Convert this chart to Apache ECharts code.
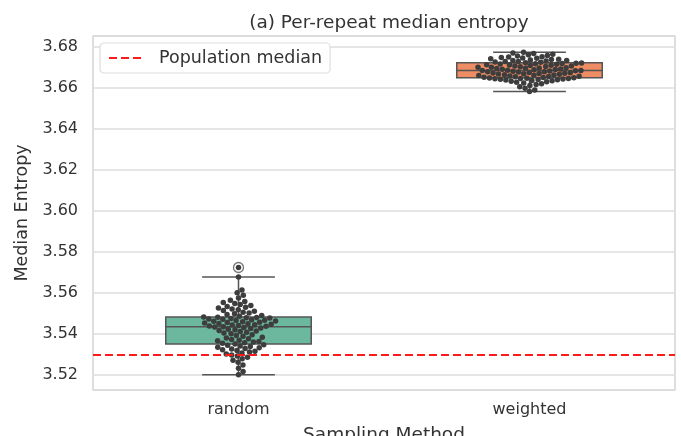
<!DOCTYPE html>
<html>
<head>
<meta charset="utf-8">
<script src="https://cdn.jsdelivr.net/npm/echarts@6/dist/echarts.min.js"></script>
<style>
  html, body { margin: 0; padding: 0; background: #ffffff; }
  #chart { width: 681px; height: 436px; }
</style>
</head>
<body>
<div id="chart"></div>
<script>
// Sampling methods on the x axis
const categories = ['random', 'weighted'];

// Median entropy of each repeat, per sampling method
const randomValues = [
  3.5201, 3.5216, 3.5232, 3.5248, 3.5261, 3.5271, 3.5279, 3.5286,
  3.5292, 3.5297, 3.5302, 3.5307, 3.5311, 3.5315, 3.5319, 3.5322,
  3.5326, 3.5329, 3.5332, 3.5335, 3.5338, 3.5341, 3.5344, 3.5347,
  3.5351,
  3.5354, 3.5357, 3.5360, 3.5363, 3.5366, 3.5369, 3.5372, 3.5376,
  3.5380, 3.5384, 3.5388, 3.5392, 3.5396, 3.5400, 3.5404, 3.5408,
  3.5411, 3.5414, 3.5417, 3.5420, 3.5423, 3.5426, 3.5429, 3.5431, 3.5433,
  3.5435,
  3.5437, 3.5439, 3.5441, 3.5443, 3.5445, 3.5447, 3.5449, 3.5451,
  3.5453, 3.5455, 3.5457, 3.5459, 3.5461, 3.5463, 3.5465, 3.5467,
  3.5469, 3.5471, 3.5473, 3.5475, 3.5477, 3.5479, 3.5480, 3.5481,
  3.5482,
  3.5486, 3.5490, 3.5494, 3.5498, 3.5502, 3.5506, 3.5510, 3.5514,
  3.5518, 3.5522, 3.5526, 3.5530, 3.5534, 3.5538, 3.5543, 3.5548,
  3.5553, 3.5558, 3.5564, 3.5575, 3.5588, 3.5601, 3.5614,
  3.5677, 3.5724
];

const weightedValues = [
  3.6583, 3.6591, 3.6599, 3.6606, 3.6612, 3.6617, 3.6621, 3.6625,
  3.6628, 3.6631, 3.6633, 3.6635, 3.6637, 3.6639, 3.6641, 3.6642,
  3.6643, 3.6644, 3.6645, 3.6646, 3.6647, 3.6648, 3.6649, 3.6650,
  3.6652, 3.6653, 3.6655, 3.6656, 3.6658, 3.6659, 3.6661, 3.6662,
  3.6664, 3.6665, 3.6667, 3.6668, 3.6670, 3.6671, 3.6672, 3.6674,
  3.6675, 3.6676, 3.6678, 3.6679, 3.6680, 3.6682, 3.6683, 3.6684, 3.6685,
  3.6686,
  3.6687, 3.6689, 3.6690, 3.6692, 3.6693, 3.6695, 3.6696, 3.6698,
  3.6699, 3.6701, 3.6702, 3.6704, 3.6705, 3.6707, 3.6708, 3.6710,
  3.6711, 3.6713, 3.6714, 3.6716, 3.6717, 3.6719, 3.6720, 3.6721, 3.6722,
  3.6724, 3.6726, 3.6727, 3.6729, 3.6730, 3.6732, 3.6734, 3.6735,
  3.6737, 3.6739, 3.6741, 3.6743, 3.6745, 3.6747, 3.6749, 3.6751,
  3.6753, 3.6756, 3.6759, 3.6762, 3.6765, 3.6768, 3.6771, 3.6775
];

// Box summaries: [lower whisker, Q1, median, Q3, upper whisker]
const randomBox = [3.5201, 3.5351, 3.5435, 3.5482, 3.5677];
const weightedBox = [3.6583, 3.6650, 3.6686, 3.6723, 3.6775];

// Fliers beyond the whiskers: [category index, value]
const outliers = [[0, 3.5724]];

// Median entropy of the whole population
const populationMedian = 3.5288;

// Value axis range and labelled ticks
const yMin = 3.5126;
const yMax = 3.6854;
const yTickValues = [3.52, 3.54, 3.56, 3.58, 3.60, 3.62, 3.64, 3.66, 3.68];

const boxColors = ['#6bb89e', '#ee8d63'];
const edgeColor = '#555555';
const dotColor = '#3d3d3d';
const FONT = 'DejaVu Sans';

const gridBox = { left: 93, right: 6, top: 36, bottom: 46 };
const chartHeight = 436;
const plotHeight = chartHeight - gridBox.top - gridBox.bottom;
const pxPerUnit = plotHeight / (yMax - yMin);
const DOT = 5.5;

// Beeswarm layout: each point is pushed sideways until it touches no earlier point
function swarmOffsets(values, diameter, scale) {
  const order = values.map((v, i) => i).sort((a, b) => values[a] - values[b]);
  const placed = [];
  const offsets = new Array(values.length).fill(0);
  const d2 = diameter * diameter;
  order.forEach(i => {
    const y = values[i] * scale;
    const near = placed.filter(p => Math.abs(p.y - y) < diameter);
    const cands = [0];
    near.forEach(p => {
      const dx = Math.sqrt(d2 - (p.y - y) * (p.y - y));
      cands.push(p.x + dx, p.x - dx);
    });
    cands.sort((a, b) => Math.abs(a) - Math.abs(b));
    let x = 0;
    for (const c of cands) {
      if (near.every(p => (p.x - c) * (p.x - c) + (p.y - y) * (p.y - y) >= d2 - 1e-6)) { x = c; break; }
    }
    placed.push({ x, y });
    offsets[i] = x;
  });
  return offsets;
}

function swarmData(values, catIndex) {
  const offs = swarmOffsets(values, DOT, pxPerUnit);
  return values.map((v, i) => ({ value: [catIndex, v], symbolOffset: [offs[i], 0] }));
}

const boxData = [[0].concat(randomBox), [1].concat(weightedBox)];

function renderBox(params, api) {
  const c = api.value(0);
  const lo = api.coord([c, api.value(1)]);
  const q1 = api.coord([c, api.value(2)]);
  const med = api.coord([c, api.value(3)]);
  const q3 = api.coord([c, api.value(4)]);
  const hi = api.coord([c, api.value(5)]);
  const band = api.size([1, 0])[0];
  const bw = band * 0.5;
  const cw = band * 0.25;
  const x = lo[0];
  const line = { stroke: edgeColor, lineWidth: 1.5 };
  return {
    type: 'group',
    children: [
      { type: 'line', shape: { x1: x, y1: q1[1], x2: x, y2: lo[1] }, style: line },
      { type: 'line', shape: { x1: x, y1: q3[1], x2: x, y2: hi[1] }, style: line },
      { type: 'line', shape: { x1: x - cw / 2, y1: lo[1], x2: x + cw / 2, y2: lo[1] }, style: line },
      { type: 'line', shape: { x1: x - cw / 2, y1: hi[1], x2: x + cw / 2, y2: hi[1] }, style: line },
      { type: 'rect', shape: { x: x - bw / 2, y: q3[1], width: bw, height: q1[1] - q3[1] },
        style: { fill: boxColors[c], stroke: edgeColor, lineWidth: 1.5 } },
      { type: 'line', shape: { x1: x - bw / 2, y1: med[1], x2: x + bw / 2, y2: med[1] }, style: line }
    ]
  };
}

const chart = echarts.init(document.getElementById('chart'), null, { renderer: 'canvas' });

chart.setOption({
  animation: false,
  backgroundColor: '#ffffff',
  textStyle: { fontFamily: FONT },
  title: {
    text: '(a) Per-repeat median entropy',
    left: 384,
    textAlign: 'center',
    top: 9,
    textStyle: { fontFamily: FONT, fontSize: 18.5, fontWeight: 'normal', color: '#333333' }
  },
  legend: {
    data: ['Population median'],
    left: 100,
    top: 43,
    orient: 'horizontal',
    itemWidth: 35,
    itemHeight: 12,
    padding: [6, 8, 6, 8],
    backgroundColor: '#ffffff',
    borderColor: '#dddddd',
    borderWidth: 1.2,
    borderRadius: 4,
    itemStyle: { opacity: 0 },
    textStyle: { fontFamily: FONT, fontSize: 17.5, color: '#333333', padding: [0, 0, 0, 10] }
  },
  grid: {
    left: gridBox.left, right: gridBox.right, top: gridBox.top, bottom: gridBox.bottom,
    outerBoundsMode: 'none',
    containLabel: false,
    show: true, borderColor: '#d3d3d3', borderWidth: 1.5, backgroundColor: 'transparent'
  },
  xAxis: {
    type: 'category',
    data: categories,
    boundaryGap: true,
    axisLine: { show: false },
    axisTick: { show: false },
    splitLine: { show: false },
    axisLabel: { fontFamily: FONT, fontSize: 16, color: '#333333', margin: 12 },
    name: 'Sampling Method',
    nameLocation: 'middle',
    nameGap: 36,
    nameTextStyle: { fontFamily: FONT, fontSize: 18.5, color: '#333333' }
  },
  yAxis: {
    type: 'value',
    min: yMin,
    max: yMax,
    splitNumber: 8,
    axisLine: { show: false },
    axisTick: { show: false },
    axisLabel: {
      customValues: yTickValues,
      fontFamily: FONT, fontSize: 16, color: '#333333', margin: 15,
      formatter: v => v.toFixed(2)
    },
    splitLine: { lineStyle: { color: '#dcdcdc', width: 1.5 } },
    name: 'Median Entropy',
    nameLocation: 'middle',
    nameGap: 62,
    nameTextStyle: { fontFamily: FONT, fontSize: 17.5, color: '#333333' }
  },
  series: [
    {
      type: 'custom',
      name: 'boxes',
      renderItem: renderBox,
      data: boxData,
      encode: { x: 0, y: [1, 2, 3, 4, 5] },
      z: 2
    },
    {
      type: 'scatter',
      name: 'outliers',
      data: outliers,
      symbol: 'circle',
      symbolSize: 10,
      itemStyle: { color: 'rgba(255,255,255,0)', borderColor: edgeColor, borderWidth: 1.3 },
      z: 3
    },
    {
      type: 'scatter',
      name: 'random',
      data: swarmData(randomValues, 0),
      symbolSize: DOT,
      itemStyle: { color: dotColor, opacity: 1 },
      z: 4
    },
    {
      type: 'scatter',
      name: 'weighted',
      data: swarmData(weightedValues, 1),
      symbolSize: DOT,
      itemStyle: { color: dotColor, opacity: 1 },
      z: 4
    },
    {
      type: 'line',
      name: 'Population median',
      data: [],
      symbol: 'none',
      lineStyle: { color: '#ff1a1a', type: [8, 4], width: 2 },
      itemStyle: { color: '#ff1a1a' },
      markLine: {
        silent: true,
        symbol: 'none',
        label: { show: false },
        lineStyle: { color: '#ff1a1a', type: [8, 4], width: 2 },
        data: [{ yAxis: populationMedian }]
      },
      z: 5
    }
  ]
});
</script>
</body>
</html>
